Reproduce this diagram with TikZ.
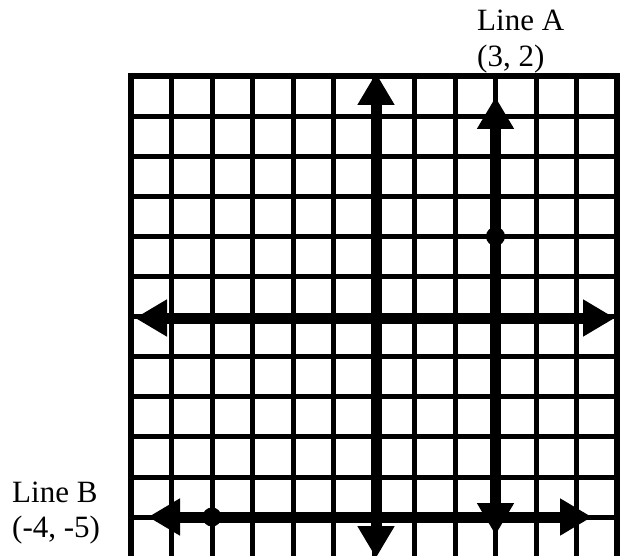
\documentclass[tikz,border=0pt]{standalone}
\usepackage{fontspec}
\setmainfont{Liberation Serif}
\usetikzlibrary{arrows.meta}
\begin{document}
\begin{tikzpicture}[x=1pt,y=-1pt,
  gridline/.style={line width=5pt},
  tip/.tip={Triangle[length=32pt,width=35pt]},
  axisline/.style={line width=11pt, tip-tip},
  dot/.style={circle, fill=black, inner sep=0pt, minimum size=19pt},
  lbl/.style={anchor=base west, inner sep=0pt, font=\fontsize{31}{36}\selectfont}]
\useasboundingbox (0,0) rectangle (621,556);
\clip (0,0) rectangle (621,556);
% grid
\foreach \k in {1,...,11} \draw[gridline] ({131+40.5*\k},76) -- ({131+40.5*\k},560);
\foreach \j in {1,...,11} \draw[gridline] (131,{76+40.1*\j}) -- (617,{76+40.1*\j});
\draw[line width=6pt] (131,562) -- (131,76) -- (617,76) -- (617,562);
% axes
\coordinate (vt) at (376,73);
\coordinate (vb) at (376,558);
\coordinate (hl) at (135,318);
\coordinate (hr) at (615,318);
\draw[axisline] (vt) -- (vb);
\draw[axisline] (hl) -- (hr);
% line A
\coordinate (at) at (495.5,97);
\coordinate (ab) at (495.5,535);
\draw[axisline] (at) -- (ab);
\node[dot] (pa) at (495.5,236.4) {};
% line B
\coordinate (bl) at (148,517);
\coordinate (br) at (592,517);
\draw[axisline] (bl) -- (br);
\node[dot] (pb) at (212,517) {};
% labels
\node[lbl] (la1) at (477,31) {Line A};
\node[lbl] (la2) at (477,67) {(3, 2)};
\node[lbl] (lb1) at (12,502) {Line B};
\node[lbl] (lb2) at (12,537) {(-4, -5)};
\end{tikzpicture}
\end{document}
